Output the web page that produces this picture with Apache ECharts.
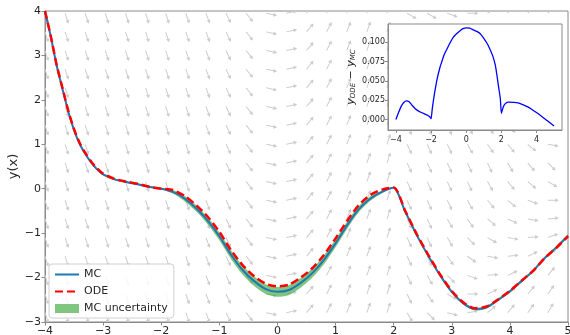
<!DOCTYPE html>
<html>
<head>
<meta charset="utf-8">
<script src="https://cdn.jsdelivr.net/npm/echarts@6/dist/echarts.min.js"></script>
<style>
html, body { margin: 0; background: #fff; }
#chart { width: 570px; height: 335px; }
</style>
</head>
<body>
<div id="chart"></div>
<script>
// main curves
const xs = [-4, -3.9, -3.8, -3.7, -3.6, -3.5, -3.4, -3.3, -3.2, -3.1, -3.0, -2.8, -2.6, -2.4, -2.2, -2.0,
    -1.8, -1.6, -1.4, -1.2, -1.0, -0.8, -0.6, -0.4, -0.2, 0, 0.2, 0.4, 0.6, 0.8, 1.0, 1.2, 1.4, 1.6, 1.8, 2.0,
    2.2, 2.4, 2.6, 2.8, 3.0, 3.2, 3.4, 3.6, 3.8, 4.0, 4.2, 4.4, 4.6, 4.8, 5.0];
const mcY = [4.0, 3.42, 2.78, 2.25, 1.74, 1.32, 1.0, 0.77, 0.58, 0.43, 0.32, 0.21, 0.15, 0.10, 0.04, 0.0,
    -0.07, -0.22, -0.44, -0.72, -1.07, -1.48, -1.83, -2.08, -2.26, -2.32, -2.28, -2.12, -1.90, -1.60, -1.23, -0.82, -0.46, -0.22, -0.07, 0.02,
    -0.52, -1.05, -1.52, -1.95, -2.32, -2.58, -2.71, -2.67, -2.50, -2.31, -2.08, -1.85, -1.56, -1.32, -1.06];
const odeY = [4.0, 3.43, 2.79, 2.27, 1.76, 1.34, 1.02, 0.79, 0.60, 0.45, 0.34, 0.22, 0.16, 0.11, 0.045, 0.0,
    -0.03, -0.16, -0.37, -0.63, -0.97, -1.38, -1.72, -1.97, -2.14, -2.20, -2.16, -2.00, -1.79, -1.49, -1.12, -0.72, -0.37, -0.14, -0.02, 0.03,
    -0.50, -1.03, -1.50, -1.93, -2.30, -2.56, -2.69, -2.65, -2.49, -2.30, -2.07, -1.85, -1.56, -1.33, -1.07];
const mcLow = [3.98, 3.40, 2.76, 2.23, 1.72, 1.30, 0.98, 0.75, 0.56, 0.41, 0.30, 0.19, 0.13, 0.08, 0.02, -0.01,
    -0.11, -0.28, -0.51, -0.80, -1.16, -1.58, -1.93, -2.19, -2.37, -2.43, -2.39, -2.23, -2.00, -1.70, -1.32, -0.90, -0.53, -0.27, -0.10, 0.01,
    -0.55, -1.08, -1.55, -1.98, -2.35, -2.61, -2.74, -2.70, -2.53, -2.34, -2.11, -1.88, -1.59, -1.35, -1.09];
const mcHigh = [4.02, 3.44, 2.80, 2.27, 1.76, 1.34, 1.02, 0.79, 0.60, 0.45, 0.34, 0.23, 0.17, 0.12, 0.06, 0.01,
    -0.03, -0.16, -0.37, -0.64, -0.98, -1.38, -1.73, -1.97, -2.15, -2.21, -2.17, -2.01, -1.80, -1.50, -1.14, -0.74, -0.39, -0.17, -0.04, 0.03,
    -0.49, -1.02, -1.49, -1.92, -2.29, -2.55, -2.68, -2.64, -2.47, -2.28, -2.05, -1.82, -1.53, -1.29, -1.03];

// inset: y_ODE - y_MC
const diffX = [-4, -3.85, -3.7, -3.55, -3.4, -3.25, -3.1, -2.9, -2.75, -2.55, -2.4, -2.2, -2.05, -2.0,
    -1.93, -1.85, -1.75, -1.65, -1.5, -1.4, -1.25, -1.1, -0.9, -0.75, -0.55, -0.35, -0.15, 0, 0.2, 0.4, 0.6, 0.8, 1.0, 1.2, 1.35, 1.5, 1.65, 1.75, 1.85, 1.94, 2.0,
    2.05, 2.14, 2.25, 2.4, 2.7, 2.95, 3.25, 3.53, 3.8, 4.1, 4.35, 4.6, 4.8, 5.0];
const diffY = [0.0, 0.009, 0.017, 0.022, 0.024, 0.023, 0.019, 0.014, 0.0115, 0.009, 0.0075, 0.0055, 0.003, 0.001,
    0.014, 0.027, 0.041, 0.053, 0.067, 0.074, 0.084, 0.091, 0.100, 0.106, 0.111, 0.115, 0.118, 0.1185, 0.1182, 0.116, 0.114, 0.111, 0.105, 0.098, 0.091, 0.083, 0.071, 0.057, 0.041, 0.027, 0.008,
    0.012, 0.018, 0.021, 0.0225, 0.0222, 0.0215, 0.019, 0.016, 0.012, 0.0075, 0.003, -0.0013, -0.005, -0.0085];
const insetXTicks = [-4, -2, 0, 2, 4];
const insetYTicks = [0, 0.025, 0.05, 0.075, 0.1];

// background direction field (arrow angle in degrees, screen, ccw from +x)
const fieldX = [-4, -3.654, -3.308, -2.962, -2.615, -2.269, -1.923, -1.577, -1.231, -0.885, -0.538, -0.192, 0.154,
    0.5, 0.846, 1.192, 1.538, 1.885, 2.231, 2.577, 2.923, 3.269, 3.615, 3.962, 4.308, 4.654, 5];
const fieldY = [3.95, 3.53, 3.11, 2.69, 2.27, 1.85, 1.43, 1.0, 0.58, 0.16, -0.26, -0.68, -1.1, -1.52, -1.95, -2.37, -2.79];
const fieldAngle = [
    [-72,-72,-72,-72,-72,-72, -72,-71,-69,-64,-52,-12,12,50,63,68,70,72, -30,-30,-20,0,30,45,45,45,45],
    [-72,-72,-72,-72,-72,-72, -72,-71,-69,-64,-52,-12,12,50,63,68,70,72, -45,-40,-30,-10,20,45,50,50,50],
    [-72,-72,-72,-72,-72,-72, -72,-71,-69,-64,-52,-12,12,50,63,68,70,72, -55,-50,-40,-25,0,30,40,40,40],
    [-72,-72,-72,-72,-72,-72, -72,-71,-69,-64,-52,-12,12,50,63,68,70,72, -60,-55,-50,-40,-20,10,25,30,30],
    [-72,-72,-72,-72,-72,-72, -72,-71,-69,-64,-52,-12,12,50,63,68,70,72, -65,-60,-55,-50,-35,-10,10,20,20],
    [-72,-72,-72,-72,-72,-72, -72,-71,-69,-64,-52,-12,12,50,63,68,70,72, -65,-65,-60,-55,-45,-30,-10,5,10],
    [-72,-72,-72,-72,-72,-72, -72,-71,-69,-64,-52,-12,12,50,63,68,70,72, -65,-65,-65,-60,-55,-45,-30,-10,0],
    [-72,-72,-72,-72,-72,-72, -72,-71,-69,-64,-52,-12,12,50,63,68,70,72, -65,-65,-65,-60,-55,-50,-40,-10,-10],
    [-72,-72,-72,-72,-72,-72, -72,-71,-69,-64,-52,-12,12,50,63,68,70,72, -65,-65,-65,-65,-65,-60,-50,-45,-40],
    [-72,-72,-72,-72,-72,-72, -72,-71,-69,-64,-52,-12,12,50,63,68,70,72, -65,-65,-65,-65,-60,-50,-40,-30,-20],
    [-72,-72,-72,-72,-72,-72, -72,-71,-69,-64,-52,-12,12,50,63,68,70,72, -65,-65,-65,-60,-50,-40,-20,0,10],
    [-72,-72,-72,-72,-72,-72, -72,-71,-69,-64,-52,-12,12,50,63,68,70,72, -65,-65,-60,-55,-40,-25,-10,5,20],
    [-72,-72,-72,-72,-72,-72, -72,-71,-69,-64,-52,-12,12,50,63,68,70,72, -65,-65,-60,-45,-30,-10,5,20,35],
    [-72,-72,-72,-72,-72,-72, -72,-71,-69,-64,-52,-12,12,50,63,68,70,72, -65,-65,-55,-35,-10,5,25,40,45],
    [-72,-72,-72,-72,-72,-72, -72,-71,-69,-64,-52,-12,12,50,63,68,70,72, -65,-60,-45,-20,5,25,40,50,50],
    [-72,-72,-72,-72,-72,-72, -72,-71,-69,-64,-52,-12,12,50,63,68,70,72, -65,-55,-30,0,25,40,50,55,55],
    [-72,-72,-72,-72,-72,-72, -72,-71,-69,-64,-52,-12,12,50,63,68,70,72, -60,-45,-15,10,40,50,55,60,60]
];

const FONT = 'DejaVu Sans';
const minus = v => String(v).replace('-', '\u2212');

let fieldData = [];
fieldY.forEach((y, k) => {
    fieldX.forEach((x, j) => {
        fieldData.push([x, y, fieldAngle[k][j]]);
    });
});

function drawArrow(params, api) {
    let p = api.coord([api.value(0), api.value(1)]);
    let a = api.value(2) * Math.PI / 180;
    let ux = Math.cos(a), uy = -Math.sin(a);
    let nx = -uy, ny = ux;
    let L = 11, hl = 3.6, sw = 0.5, hw = 2.0;
    let pt = (s, t) => [p[0] + ux * s + nx * t, p[1] + uy * s + ny * t];
    return {
        type: 'polygon',
        shape: {points: [pt(0, -sw), pt(L - hl, -sw), pt(L - hl, -hw), pt(L, 0), pt(L - hl, hw), pt(L - hl, sw), pt(0, sw)]},
        style: {fill: '#cdcdcd'}
    };
}

function drawBand(params, api) {
    let pts = [];
    for (let i = 0; i < xs.length; i++) pts.push(api.coord([xs[i], mcLow[i]]));
    for (let i = xs.length - 1; i >= 0; i--) pts.push(api.coord([xs[i], mcHigh[i]]));
    return {
        type: 'polygon',
        shape: {points: pts, smooth: 0.25},
        style: {fill: 'rgba(44,160,44,0.6)'}
    };
}

const SPINE = '#8a8a8a';
const axisCommon = {
    axisLine: {show: true, onZero: false, lineStyle: {color: SPINE, width: 1}},
    axisTick: {show: true, inside: false, length: 3.5, lineStyle: {color: SPINE}},
    splitLine: {show: false}
};

let option = {
    animation: false,
    textStyle: {fontFamily: FONT},
    grid: [
        {left: 45, top: 11, right: 2, bottom: 13, show: true, borderColor: SPINE, borderWidth: 1, outerBoundsMode: 'none'},
        {left: 388, top: 24, width: 174, height: 106, show: true, backgroundColor: '#fff', borderColor: SPINE,
            borderWidth: 1, zlevel: 1, outerBoundsMode: 'none'}
    ],
    xAxis: [
        Object.assign({}, axisCommon, {
            type: 'value', gridIndex: 0, min: -4, max: 5, interval: 1,
            axisLabel: {fontSize: 11, color: '#262626', margin: 4, formatter: minus}
        }),
        Object.assign({}, axisCommon, {
            type: 'value', gridIndex: 1, min: -4.45, max: 5.45, zlevel: 1,
            axisTick: {show: true, length: 3, lineStyle: {color: SPINE}, customValues: insetXTicks},
            axisLabel: {fontSize: 8, color: '#262626', margin: 6, customValues: insetXTicks, formatter: minus}
        })
    ],
    yAxis: [
        Object.assign({}, axisCommon, {
            type: 'value', gridIndex: 0, min: -3, max: 4, interval: 1,
            axisLabel: {fontSize: 11, color: '#262626', margin: 4, formatter: minus},
            name: 'y(x)', nameLocation: 'middle', nameGap: 25, nameRotate: 90, nameMoveOverlap: false,
            nameTextStyle: {fontSize: 13, color: '#262626'}
        }),
        Object.assign({}, axisCommon, {
            type: 'value', gridIndex: 1, min: -0.0136, max: 0.1236, zlevel: 1,
            axisTick: {show: true, length: 3, lineStyle: {color: SPINE}, customValues: insetYTicks},
            axisLabel: {fontSize: 8, color: '#262626', margin: 3, customValues: insetYTicks,
                formatter: v => v.toFixed(3)},
            name: '{i|y}{s|ODE}{m| \u2212 }{i|y}{s|MC}', nameLocation: 'middle', nameGap: 31, nameRotate: 90,
            nameTextStyle: {
                color: '#262626',
                rich: {
                    i: {fontSize: 11, fontStyle: 'italic', fontFamily: FONT, color: '#262626'},
                    s: {fontSize: 7, fontStyle: 'italic', fontFamily: FONT, color: '#262626', padding: [5, 0, 0, 0]},
                    m: {fontSize: 11, fontFamily: FONT, color: '#262626'}
                }
            }
        })
    ],
    legend: {
        orient: 'vertical',
        left: 49, top: 264,
        itemWidth: 24, itemHeight: 9, itemGap: 6,
        padding: [5, 6, 4, 5],
        borderColor: '#d0d0d0', borderWidth: 1, borderRadius: 3,
        backgroundColor: 'rgba(255,255,255,0.85)',
        textStyle: {fontSize: 11, color: '#262626', fontFamily: FONT},
        data: [
            {name: 'MC', itemStyle: {opacity: 0}},
            {name: 'ODE', itemStyle: {opacity: 0}},
            {name: 'MC uncertainty', icon: 'rect', itemStyle: {color: 'rgba(44,160,44,0.6)'}}
        ]
    },
    series: [
        {
            type: 'custom', name: 'field', xAxisIndex: 0, yAxisIndex: 0, z: 1, silent: true, clip: true,
            renderItem: drawArrow, data: fieldData
        },
        {
            type: 'custom', name: 'MC uncertainty', xAxisIndex: 0, yAxisIndex: 0, z: 2, silent: true, clip: true,
            itemStyle: {color: 'rgba(44,160,44,0.6)'},
            renderItem: drawBand, data: [0]
        },
        {
            type: 'line', name: 'MC', xAxisIndex: 0, yAxisIndex: 0, z: 3, symbol: 'none', smooth: 0.25,
            data: xs.map((x, i) => [x, mcY[i]]),
            lineStyle: {color: '#1f77b4', width: 2}, itemStyle: {color: '#1f77b4'}
        },
        {
            type: 'line', name: 'ODE', xAxisIndex: 0, yAxisIndex: 0, z: 4, symbol: 'none', smooth: 0.25,
            data: xs.map((x, i) => [x, odeY[i]]),
            lineStyle: {color: '#ff0000', width: 2.5, type: [8, 4]}, itemStyle: {color: '#ff0000'}
        },
        {
            type: 'line', name: 'diff', xAxisIndex: 1, yAxisIndex: 1, zlevel: 1, z: 3, symbol: 'none',
            smooth: 0.2, data: diffX.map((x, i) => [x, diffY[i]]),
            lineStyle: {color: '#0000ff', width: 1.3}
        }
    ]
};

echarts.init(document.getElementById('chart')).setOption(option);
</script>
</body>
</html>
